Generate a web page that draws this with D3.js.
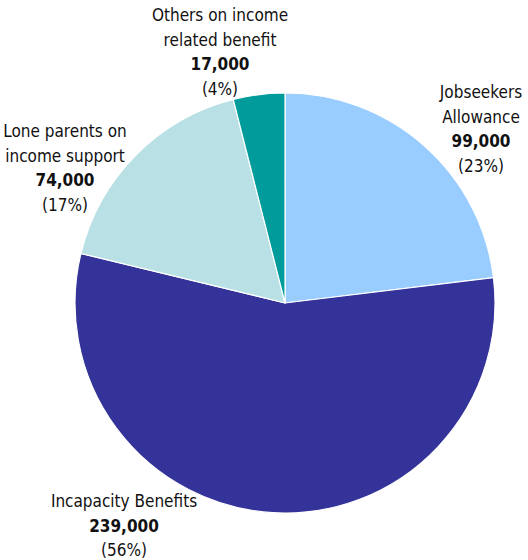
<!DOCTYPE html>
<html>
<head>
<meta charset="utf-8">
<script src="https://cdn.jsdelivr.net/npm/d3@7"></script>
<style>
  body { margin: 0; background: #fff; }
  text { font-family: "DejaVu Sans Condensed", "DejaVu Sans", sans-serif; font-stretch: condensed; fill: #111; }
</style>
</head>
<body>
<div id="container"></div>
<script>
let w = 528;
let h = 560;

// data
let categories = ["Jobseekers Allowance", "Incapacity Benefits", "Lone parents on income support", "Others on income related benefit"];
let labelLines = [["Jobseekers", "Allowance"], ["Incapacity Benefits"], ["Lone parents on", "income support"], ["Others on income", "related benefit"]];
let values = [99000, 239000, 74000, 17000];
let percents = ["23%", "56%", "17%", "4%"];
let colors = ["#99ccff", "#333399", "#b9e1e5", "#009b9b"];

// where each label block sits (centre x, first baseline)
let labelX = [481, 124, 65, 220];
let labelY = [98, 507, 137, 21];

let cx = 285, cy = 303, r = 210;
let lineH = 24.5;

let viz = d3.select("#container").append("svg")
    .attr("width", w)
    .attr("height", h);

let pie = d3.pie().sort(null).value(d => d)(values);
let arcMaker = d3.arc().innerRadius(0).outerRadius(r);

let g = viz.append("g").attr("transform", "translate(" + cx + "," + cy + ")");
g.selectAll(".slice").data(pie).enter()
  .append("path")
  .attr("class", "slice")
  .attr("d", arcMaker)
  .attr("fill", (d, i) => colors[i])
  .attr("stroke", "white")
  .attr("stroke-width", 1.2);

let fmt = d3.format(",");
let labels = viz.selectAll(".lab").data(categories).enter()
  .append("text")
  .attr("class", "lab")
  .attr("text-anchor", "middle")
  .attr("font-size", 17);

labels.each(function(d, i) {
  let t = d3.select(this);
  let lines = labelLines[i];
  lines.forEach((s, j) => {
    t.append("tspan").attr("x", labelX[i]).attr("y", labelY[i] + j * lineH).text(s);
  });
  let n = lines.length;
  t.append("tspan").attr("x", labelX[i]).attr("y", labelY[i] + n * lineH)
    .attr("font-weight", "bold").text(fmt(values[i]));
  t.append("tspan").attr("x", labelX[i]).attr("y", labelY[i] + (n + 1) * lineH)
    .text("(" + percents[i] + ")");
});
</script>
</body>
</html>
